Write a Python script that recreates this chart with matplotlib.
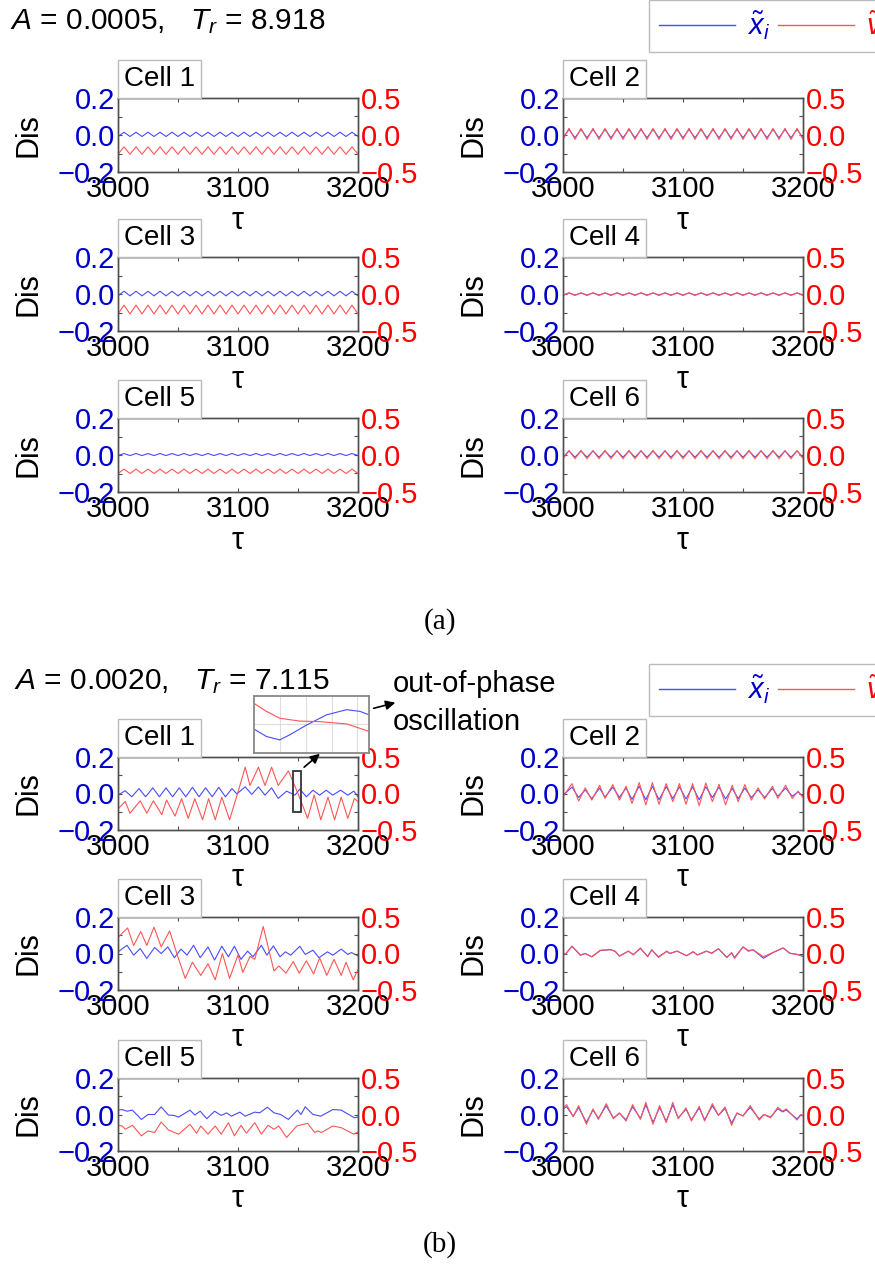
import matplotlib
matplotlib.use("Agg")
import matplotlib.pyplot as plt
import numpy as np
from matplotlib.lines import Line2D
from matplotlib.patches import Rectangle, FancyArrowPatch

plt.rcParams["font.family"] = ["Liberation Sans", "DejaVu Sans"]
plt.rcParams["mathtext.fontset"] = "custom"
plt.rcParams["mathtext.rm"] = "Liberation Sans"
plt.rcParams["mathtext.it"] = "Liberation Sans:italic"

# ---------------- data ----------------
# (a) A = 0.0005: steady periodic response, trough/peak every 5 tau
tau_a = np.arange(3000, 3201, 5)
a_x1 = [-0.008, 0.015, -0.008, 0.015, -0.008, 0.015, -0.008, 0.015, -0.008, 0.015,
        -0.008, 0.015, -0.008, 0.015, -0.008, 0.015, -0.008, 0.015, -0.008, 0.015,
        -0.008, 0.015, -0.008, 0.015, -0.008, 0.015, -0.008, 0.015, -0.008, 0.015,
        -0.008, 0.015, -0.008, 0.015, -0.008, 0.015, -0.008, 0.015, -0.008, 0.015, -0.008]
a_v1 = [-0.26, -0.16, -0.26, -0.16, -0.26, -0.16, -0.26, -0.16, -0.26, -0.16,
        -0.26, -0.16, -0.26, -0.16, -0.26, -0.16, -0.26, -0.16, -0.26, -0.16,
        -0.26, -0.16, -0.26, -0.16, -0.26, -0.16, -0.26, -0.16, -0.26, -0.16,
        -0.26, -0.16, -0.26, -0.16, -0.26, -0.16, -0.26, -0.16, -0.26, -0.16, -0.26]
a_x2 = [-0.015, 0.03, -0.015, 0.03, -0.015, 0.03, -0.015, 0.03, -0.015, 0.03,
        -0.015, 0.03, -0.015, 0.03, -0.015, 0.03, -0.015, 0.03, -0.015, 0.03,
        -0.015, 0.03, -0.015, 0.03, -0.015, 0.03, -0.015, 0.03, -0.015, 0.03,
        -0.015, 0.03, -0.015, 0.03, -0.015, 0.03, -0.015, 0.03, -0.015, 0.03, -0.015]
a_v2 = [-0.06, 0.09, -0.06, 0.09, -0.06, 0.09, -0.06, 0.09, -0.06, 0.09,
        -0.06, 0.09, -0.06, 0.09, -0.06, 0.09, -0.06, 0.09, -0.06, 0.09,
        -0.06, 0.09, -0.06, 0.09, -0.06, 0.09, -0.06, 0.09, -0.06, 0.09,
        -0.06, 0.09, -0.06, 0.09, -0.06, 0.09, -0.06, 0.09, -0.06, 0.09, -0.06]
a_x3 = [-0.01, 0.015, -0.01, 0.015, -0.01, 0.015, -0.01, 0.015, -0.01, 0.015,
        -0.01, 0.015, -0.01, 0.015, -0.01, 0.015, -0.01, 0.015, -0.01, 0.015,
        -0.01, 0.015, -0.01, 0.015, -0.01, 0.015, -0.01, 0.015, -0.01, 0.015,
        -0.01, 0.015, -0.01, 0.015, -0.01, 0.015, -0.01, 0.015, -0.01, 0.015, -0.01]
a_v3 = [-0.27, -0.15, -0.27, -0.15, -0.27, -0.15, -0.27, -0.15, -0.27, -0.15,
        -0.27, -0.15, -0.27, -0.15, -0.27, -0.15, -0.27, -0.15, -0.27, -0.15,
        -0.27, -0.15, -0.27, -0.15, -0.27, -0.15, -0.27, -0.15, -0.27, -0.15,
        -0.27, -0.15, -0.27, -0.15, -0.27, -0.15, -0.27, -0.15, -0.27, -0.15, -0.27]
a_x4 = [-0.006, 0.006, -0.006, 0.006, -0.006, 0.006, -0.006, 0.006, -0.006, 0.006,
        -0.006, 0.006, -0.006, 0.006, -0.006, 0.006, -0.006, 0.006, -0.006, 0.006,
        -0.006, 0.006, -0.006, 0.006, -0.006, 0.006, -0.006, 0.006, -0.006, 0.006,
        -0.006, 0.006, -0.006, 0.006, -0.006, 0.006, -0.006, 0.006, -0.006, 0.006, -0.006]
a_v4 = [-0.02, 0.015, -0.02, 0.015, -0.02, 0.015, -0.02, 0.015, -0.02, 0.015,
        -0.02, 0.015, -0.02, 0.015, -0.02, 0.015, -0.02, 0.015, -0.02, 0.015,
        -0.02, 0.015, -0.02, 0.015, -0.02, 0.015, -0.02, 0.015, -0.02, 0.015,
        -0.02, 0.015, -0.02, 0.015, -0.02, 0.015, -0.02, 0.015, -0.02, 0.015, -0.02]
a_x5 = [-0.003, 0.008, -0.003, 0.008, -0.003, 0.008, -0.003, 0.008, -0.003, 0.008,
        -0.003, 0.008, -0.003, 0.008, -0.003, 0.008, -0.003, 0.008, -0.003, 0.008,
        -0.003, 0.008, -0.003, 0.008, -0.003, 0.008, -0.003, 0.008, -0.003, 0.008,
        -0.003, 0.008, -0.003, 0.008, -0.003, 0.008, -0.003, 0.008, -0.003, 0.008, -0.003]
a_v5 = [-0.25, -0.19, -0.25, -0.19, -0.25, -0.19, -0.25, -0.19, -0.25, -0.19,
        -0.25, -0.19, -0.25, -0.19, -0.25, -0.19, -0.25, -0.19, -0.25, -0.19,
        -0.25, -0.19, -0.25, -0.19, -0.25, -0.19, -0.25, -0.19, -0.25, -0.19,
        -0.25, -0.19, -0.25, -0.19, -0.25, -0.19, -0.25, -0.19, -0.25, -0.19, -0.25]
a_x6 = [-0.012, 0.022, -0.012, 0.022, -0.012, 0.022, -0.012, 0.022, -0.012, 0.022,
        -0.012, 0.022, -0.012, 0.022, -0.012, 0.022, -0.012, 0.022, -0.012, 0.022,
        -0.012, 0.022, -0.012, 0.022, -0.012, 0.022, -0.012, 0.022, -0.012, 0.022,
        -0.012, 0.022, -0.012, 0.022, -0.012, 0.022, -0.012, 0.022, -0.012, 0.022, -0.012]
a_v6 = [-0.05, 0.06, -0.05, 0.06, -0.05, 0.06, -0.05, 0.06, -0.05, 0.06,
        -0.05, 0.06, -0.05, 0.06, -0.05, 0.06, -0.05, 0.06, -0.05, 0.06,
        -0.05, 0.06, -0.05, 0.06, -0.05, 0.06, -0.05, 0.06, -0.05, 0.06,
        -0.05, 0.06, -0.05, 0.06, -0.05, 0.06, -0.05, 0.06, -0.05, 0.06, -0.05]

# (b) A = 0.0020: extrema of each trace (tau, value)
b1_tx = [3000, 3006, 3011.5, 3017.5, 3023, 3029, 3034.5, 3040, 3045.5, 3051,
         3056.5, 3062, 3067.5, 3073, 3078.5, 3084, 3089.5, 3095, 3099, 3106,
         3111.5, 3117, 3122.5, 3128, 3133.5, 3140.5, 3147.5, 3151.5, 3157, 3162.5,
         3168, 3173.5, 3179, 3185.5, 3191.5, 3196.5, 3200]
b1_x = [-0.009, 0.015, -0.018, 0.027, -0.018, 0.031, -0.018, 0.031, -0.018, 0.031,
        -0.018, 0.034, -0.018, 0.031, -0.018, 0.034, -0.018, 0.027, -0.002, 0.036,
        -0.005, 0.036, -0.009, 0.031, -0.027, 0.013, -0.009, 0.024, -0.018, 0.018,
        -0.009, 0.018, -0.009, 0.018, -0.009, 0.013, -0.018]
b1_tv = [3000, 3006, 3010, 3018.5, 3024, 3029.5, 3036.5, 3040.5, 3047.5, 3053,
         3058.5, 3064, 3070.5, 3075.5, 3081, 3086.5, 3093, 3100, 3106, 3110,
         3117, 3122.5, 3128, 3133.5, 3142, 3150, 3158, 3163.5, 3169, 3175,
         3180.5, 3186, 3191.5, 3197, 3200]
b1_v = [-0.21, -0.11, -0.27, -0.10, -0.27, -0.10, -0.29, -0.09, -0.31, -0.07,
        -0.34, -0.07, -0.36, -0.07, -0.36, -0.05, -0.36, 0.02, 0.36, 0.11,
        0.36, 0.11, 0.36, 0.11, 0.31, 0.0, -0.34, -0.02, -0.36, -0.05,
        -0.36, -0.05, -0.34, -0.07, -0.11]

b2_t = [3000, 3007.5, 3013, 3018.5, 3024, 3030.5, 3035, 3041.5, 3047, 3052.5,
        3057.5, 3063.5, 3069, 3074.5, 3080, 3086, 3091.5, 3097, 3102.5, 3108,
        3113.5, 3119, 3124.5, 3130, 3135.5, 3141, 3146, 3151.5, 3157, 3162.5,
        3168, 3174.5, 3179, 3185.5, 3191, 3196, 3200]
b2_x = [-0.009, 0.035, -0.022, 0.02, -0.028, 0.03, -0.02, 0.035, -0.022, 0.03,
        -0.032, 0.04, -0.034, 0.04, -0.034, 0.038, -0.028, 0.037, -0.03, 0.037,
        -0.034, 0.037, -0.022, 0.035, -0.03, 0.028, -0.028, 0.03, -0.022, 0.02,
        -0.022, 0.028, -0.015, 0.03, -0.015, 0.008, -0.015]
b2_v = [-0.045, 0.135, -0.103, 0.077, -0.09, 0.113, -0.067, 0.122, -0.09, 0.10,
        -0.135, 0.149, -0.157, 0.149, -0.148, 0.135, -0.112, 0.135, -0.148, 0.135,
        -0.166, 0.144, -0.112, 0.126, -0.157, 0.113, -0.112, 0.122, -0.09, 0.077,
        -0.076, 0.10, -0.067, 0.113, -0.067, 0.032, -0.058]

b3_tx = [3000, 3007.5, 3013, 3018.5, 3024, 3030.5, 3036, 3041.5, 3047, 3052.5,
         3057.5, 3063, 3068.5, 3075, 3080.5, 3086.5, 3092, 3097, 3102.5, 3108,
         3112.5, 3119.5, 3124, 3129.5, 3135, 3139.5, 3144, 3151.5, 3156, 3162.5,
         3167.5, 3174.5, 3179, 3186, 3191.5, 3194.5, 3200]
b3_x = [0.009, 0.045, -0.009, 0.027, -0.027, 0.033, 0.0, 0.036, -0.023, 0.024,
        -0.009, 0.045, -0.023, 0.036, -0.036, 0.04, -0.018, 0.04, -0.032, 0.013,
        -0.018, 0.045, -0.009, 0.042, -0.018, 0.009, -0.009, 0.04, -0.005, 0.018,
        -0.023, 0.009, -0.009, 0.024, -0.005, 0.005, -0.013]
b3_tv = [3000, 3008, 3013, 3019, 3024, 3030, 3036, 3043, 3050, 3056,
         3062, 3069, 3075, 3081, 3087, 3093, 3100, 3104, 3110, 3114,
         3121, 3130, 3134, 3140, 3146, 3151, 3157, 3163, 3168, 3174,
         3180, 3186, 3190, 3196, 3200]
b3_v = [0.22, 0.35, 0.11, 0.30, 0.11, 0.36, 0.09, 0.31, -0.05, -0.34,
        -0.12, -0.30, -0.14, -0.36, 0.0, -0.34, -0.02, -0.26, -0.04, -0.08,
        0.37, -0.24, -0.17, -0.27, -0.11, -0.27, -0.10, -0.28, -0.06, -0.30,
        -0.08, -0.30, -0.12, -0.36, -0.22]

b4_t = [3000, 3002, 3007.5, 3014.5, 3018.5, 3024, 3031, 3039.5, 3043.5, 3047,
        3054.5, 3058.5, 3064.5, 3070.5, 3074, 3079.5, 3086.5, 3089, 3095, 3103,
        3108.5, 3112, 3119.5, 3124, 3129.5, 3136.5, 3140.5, 3143, 3150, 3154.5,
        3158.5, 3167, 3175, 3183.5, 3189, 3194.5, 3200]
b4_x = [0.0, -0.004, 0.04, -0.01, 0.0, -0.018, 0.016, 0.022, 0.012, -0.014,
        0.013, -0.006, 0.028, -0.016, 0.02, -0.018, 0.012, 0.0, 0.013, -0.012,
        0.01, -0.008, 0.013, 0.002, 0.026, -0.02, 0.002, -0.022, 0.036, 0.016,
        0.02, -0.026, 0.005, 0.03, 0.002, -0.004, -0.016]
b4_v = [0.0, -0.01, 0.10, -0.02, 0.0, -0.045, 0.045, 0.05, 0.03, -0.036,
        0.032, -0.02, 0.077, -0.045, 0.05, -0.054, 0.032, 0.0, 0.032, -0.03,
        0.022, -0.02, 0.032, 0.0, 0.068, -0.058, 0.015, -0.067, 0.09, 0.03,
        0.05, -0.045, 0.015, 0.077, 0.0, -0.01, -0.036]

b5_tx = [3000, 3003.5, 3007.5, 3012, 3019.5, 3025, 3030.5, 3036, 3042, 3046.5,
         3050.5, 3060, 3064, 3068.5, 3074, 3080.5, 3086, 3090.5, 3094.5, 3101.5,
         3106, 3114, 3118, 3124.5, 3130, 3135.5, 3142, 3149.5, 3152.5, 3156,
         3162.5, 3169, 3179, 3186, 3197, 3200]
b5_x = [0.024, 0.027, 0.018, 0.024, -0.027, 0.0, 0.0, 0.042, -0.003, -0.005,
        -0.014, 0.024, -0.003, 0.018, -0.023, 0.018, -0.005, 0.009, -0.009, 0.013,
        -0.009, 0.013, 0.009, 0.040, 0.009, 0.0, -0.027, 0.024, 0.0, 0.042,
        0.0, -0.009, 0.027, 0.024, -0.018, -0.014]
b5_tv = [3000, 3003.5, 3006, 3012, 3019.5, 3025, 3030.5, 3036, 3042, 3050.5,
         3060, 3065.5, 3069, 3075, 3081, 3086, 3092, 3097, 3102.5, 3107,
         3114, 3119.5, 3125, 3130, 3134, 3140.5, 3149, 3158, 3164, 3166.5,
         3169.5, 3179, 3186, 3196.5, 3200]
b5_v = [-0.148, -0.157, -0.202, -0.148, -0.292, -0.225, -0.247, -0.103, -0.211, -0.27,
        -0.135, -0.256, -0.157, -0.27, -0.157, -0.27, -0.112, -0.292, -0.148, -0.256,
        -0.112, -0.27, -0.148, -0.202, -0.157, -0.315, -0.157, -0.121, -0.247, -0.225,
        -0.247, -0.157, -0.18, -0.27, -0.238]

b6_t = [3000, 3003, 3008.5, 3013, 3019.5, 3025, 3029.5, 3036, 3042, 3047,
        3052.5, 3058, 3064.5, 3069, 3075, 3080.5, 3086, 3091.5, 3096, 3102.5,
        3107, 3113.5, 3118, 3124.5, 3129.5, 3135, 3140.5, 3145, 3150, 3156,
        3163.5, 3167.5, 3173, 3179, 3183, 3186, 3195, 3198.5, 3200]
b6_x = [0.03, 0.043, -0.01, 0.039, -0.043, 0.025, -0.021, 0.048, -0.019, 0.007,
        -0.029, 0.043, -0.021, 0.053, -0.043, 0.039, -0.036, 0.053, -0.019, 0.029,
        -0.029, 0.036, -0.029, 0.048, -0.004, 0.033, -0.047, 0.007, -0.007, 0.039,
        -0.024, 0.0, -0.014, 0.032, 0.014, 0.025, -0.024, 0.0, -0.007]
b6_v = [0.09, 0.135, -0.031, 0.122, -0.135, 0.077, -0.067, 0.149, -0.058, 0.023,
        -0.09, 0.135, -0.067, 0.167, -0.135, 0.122, -0.112, 0.167, -0.058, 0.09,
        -0.09, 0.113, -0.09, 0.149, -0.013, 0.104, -0.148, 0.023, -0.022, 0.122,
        -0.076, 0.0, -0.045, 0.10, 0.045, 0.077, -0.076, 0.0, -0.022]

# zoomed inset of cell 1 (b), normalised height
ins_tx = [3147.0, 3147.65, 3148.34, 3148.87, 3149.74, 3150.79, 3151.83, 3152.53, 3153.0]
ins_x = [0.42, 0.29, 0.23, 0.32, 0.49, 0.67, 0.76, 0.73, 0.67]
ins_tv = [3147.0, 3147.65, 3148.34, 3149.39, 3150.44, 3151.83, 3153.0]
ins_v = [0.87, 0.73, 0.61, 0.56, 0.55, 0.51, 0.38]

BLUE = "#0000cc"
RED = "#ff0000"
BLUE_LINE = "#4a4aff"
RED_LINE = "#ff5555"
SPINE = "#505050"
W, H = 875, 1280

fig = plt.figure(figsize=(W / 100, H / 100), dpi=100)


def px_rect(x, top, w, h):
    return [x / W, 1 - (top + h) / H, w / W, h / H]


def cell_panel(rect, name, tx, x, tv, v):
    ax = fig.add_axes(rect)
    ax2 = ax.twinx()
    ax.plot(tx, x, color=BLUE_LINE, lw=0.8)
    ax2.plot(tv, v, color=RED_LINE, lw=0.8)
    ax.set_xlim(3000, 3200)
    ax.set_ylim(-0.2, 0.2)
    ax2.set_ylim(-0.5, 0.5)
    ax.set_xticks([3000, 3100, 3200])
    ax.set_xticks([3050, 3150], minor=True)
    ax.set_yticks([-0.2, 0.0, 0.2])
    ax.set_yticks([-0.1, 0.1], minor=True)
    ax2.set_yticks([-0.5, 0.0, 0.5])
    ax2.set_yticks([-0.25, 0.25], minor=True)
    for a in (ax, ax2):
        a.tick_params(which="both", direction="in", length=3, width=0.8,
                      color=SPINE, labelsize=21, pad=2)
        for s in a.spines.values():
            s.set_color(SPINE)
            s.set_linewidth(1.0)
    ax.tick_params(which="both", top=True)
    ax.tick_params(axis="y", labelcolor=BLUE)
    ax2.tick_params(axis="y", labelcolor=RED)
    ax.text(-0.375, 0.5, "Dis", rotation=90, ha="center", va="center",
            fontsize=22, transform=ax.transAxes)
    ax.text(0.5, -0.66, "τ", ha="center", va="center", fontsize=22,
            transform=ax.transAxes)
    ax2.annotate(name, xy=(0, 1), xycoords="axes fraction", xytext=(4.5, 4.5),
                 textcoords="offset points", ha="left", va="bottom", fontsize=20,
                 bbox=dict(boxstyle="square,pad=0.22", fc="white", ec="#bbbbbb", lw=1.0),
                 annotation_clip=False)
    return ax, ax2


cols = [118, 563]
rows_a = [98, 257, 418]
rows_b = [757, 917, 1078]

series_a = [(a_x1, a_v1), (a_x2, a_v2), (a_x3, a_v3),
            (a_x4, a_v4), (a_x5, a_v5), (a_x6, a_v6)]
for k, (xs, vs) in enumerate(series_a):
    r, c = divmod(k, 2)
    cell_panel(px_rect(cols[c], rows_a[r], 240, 74), f"Cell {k + 1}",
               tau_a, xs, tau_a, vs)

series_b = [(b1_tx, b1_x, b1_tv, b1_v), (b2_t, b2_x, b2_t, b2_v),
            (b3_tx, b3_x, b3_tv, b3_v), (b4_t, b4_x, b4_t, b4_v),
            (b5_tx, b5_x, b5_tv, b5_v), (b6_t, b6_x, b6_t, b6_v)]
b_axes = []
for k, (tx, xs, tv, vs) in enumerate(series_b):
    r, c = divmod(k, 2)
    b_axes.append(cell_panel(px_rect(cols[c], rows_b[r], 240, 73), f"Cell {k + 1}",
                             tx, xs, tv, vs))

# marked window in cell 1 (b)
b_axes[0][1].add_patch(Rectangle((3145.5, -0.26), 6.8, 0.575, fill=False,
                                 ec="#333333", lw=1.3, zorder=5))

# inset
axi = fig.add_axes(px_rect(254, 696, 115, 57))
axi.plot(ins_tx, ins_x, color=BLUE_LINE, lw=0.8)
axi.plot(ins_tv, ins_v, color=RED_LINE, lw=0.8)
axi.set_xlim(3147, 3153)
axi.set_ylim(0, 1)
axi.set_xticks([3148.34, 3149.7, 3151.05, 3152.36])
axi.set_yticks([0.51])
axi.tick_params(length=0, labelbottom=False, labelleft=False)
axi.grid(color="#dddddd", lw=0.8)
for s in axi.spines.values():
    s.set_color("#888888")
    s.set_linewidth(1.3)

# arrows and annotation
for (x0, y0), (x1, y1) in [((302, 769), (322, 752)), ((371, 709), (398, 702))]:
    fig.add_artist(FancyArrowPatch((x0 / W, 1 - y0 / H), (x1 / W, 1 - y1 / H),
                                   transform=fig.transFigure, arrowstyle="-|>",
                                   mutation_scale=14, color="black", lw=1.2))
fig.text(393 / W, 1 - 684 / H, "out-of-phase", fontsize=21, ha="left", va="center")
fig.text(393 / W, 1 - 722 / H, "oscillation", fontsize=21, ha="left", va="center")

# headers
fig.text(10 / W, 1 - 22 / H, r"$A$ = 0.0005,   $T_r$ = 8.918", fontsize=21.5,
         ha="left", va="center")
fig.text(14 / W, 1 - 682 / H, r"$A$ = 0.0020,   $T_r$ = 7.115", fontsize=21.5,
         ha="left", va="center")

# legends
handles = [Line2D([], [], color=BLUE_LINE, lw=1.0), Line2D([], [], color=RED_LINE, lw=1.0)]
labels = [r"$\tilde{x}_i$", r"$\tilde{v}_i$"]
for yc in (26, 690):
    leg = fig.legend(handles, labels, loc="center left",
                     bbox_to_anchor=(649 / W, 1 - yc / H), ncol=2, fontsize=21,
                     frameon=True, fancybox=False, edgecolor="#bbbbbb", framealpha=1,
                     handlelength=2.6, handletextpad=0.4, columnspacing=0.3,
                     borderaxespad=0, borderpad=0.35)
    for txt, col in zip(leg.get_texts(), [BLUE, RED]):
        txt.set_color(col)

# sub-figure captions
fig.text(440 / W, 1 - 622 / H, "(a)", fontsize=21, ha="center", va="center",
         family="Liberation Serif")
fig.text(440 / W, 1 - 1245 / H, "(b)", fontsize=21, ha="center", va="center",
         family="Liberation Serif")

fig.savefig("out.png", dpi=100)
plt.close(fig)
